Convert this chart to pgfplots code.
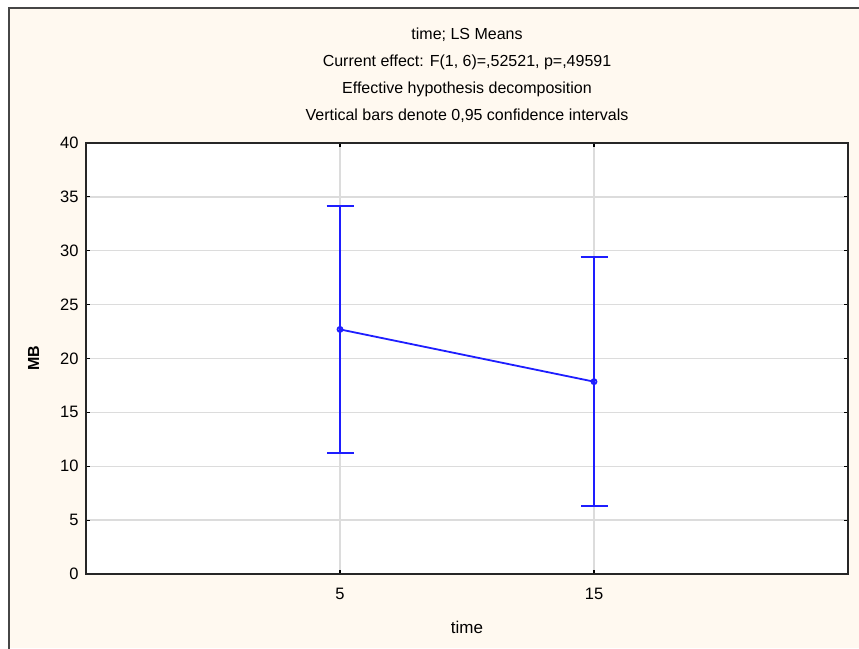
\documentclass[border=0pt]{standalone}
\usepackage{pgfplots}
\pgfplotsset{compat=1.18}
\usepackage{pgfplotstable}
\usepackage{fontspec}
\setmainfont{Liberation Sans}
\definecolor{cream}{RGB}{255,249,240}
\definecolor{framegray}{RGB}{70,70,70}
\definecolor{gridgray}{RGB}{220,220,220}
\definecolor{statblue}{RGB}{30,30,255}
\pgfplotstableread{
x y ep em
0 22.70 11.45 11.45
1 17.85 11.55 11.55
}\lsmeans
\begin{document}
\begin{tikzpicture}[x=1pt,y=1pt]
\useasboundingbox (0,0) rectangle (859,648);
\fill[white] (0,0) rectangle (859,648);
\fill[cream] (9,0) rectangle (859,640);
\draw[framegray, line width=1.6pt] (9,-5) -- (9,640) -- (870,640);
\begin{axis}[
  at={(86pt,74pt)}, anchor=south west,
  width=762pt, height=431pt, scale only axis,
  axis background/.style={fill=white},
  xmin=-1, xmax=2, ymin=0, ymax=40,
  xtick={0,1}, xticklabels={5,15},
  ytick={0,5,...,40},
  grid=major,
  major grid style={gridgray, line width=1.3pt},
  axis line style={black!85, line width=1.4pt},
  tick align=inside, tick pos=both,
  major tick length=4pt,
  every tick/.style={black, line width=1.2pt},
  /pgf/number format/assume math mode=true,
  tick label style={font=\fontsize{16.5}{18}\selectfont},
  xticklabel style={yshift=-11pt},
  yticklabel style={xshift=-4pt},
  xlabel={time},
  ylabel={\textbf{MB}},
  xlabel style={font=\fontsize{17}{18}\selectfont, yshift=-14pt},
  ylabel style={font=\fontsize{16}{18}\selectfont, yshift=14pt},
  title={time; LS Means\\Current effect: F(1, 6)=,52521, p=,49591\\Effective hypothesis decomposition\\Vertical bars denote 0,95 confidence intervals},
  title style={at={(rel axis cs:0.5,1)}, anchor=south, yshift=11pt, align=center, font=\fontsize{16}{27}\selectfont},
  clip=false,
]
\addplot[statblue, line width=1.8pt, mark=o, mark size=2.5pt,
  error bars/.cd, y dir=both, y explicit,
  error bar style={line width=1.8pt, statblue},
  error mark options={rotate=90, mark size=13.5pt, line width=1.8pt, statblue}]
  table[x=x, y=y, y error plus=ep, y error minus=em] {\lsmeans};
\end{axis}
\end{tikzpicture}
\end{document}
